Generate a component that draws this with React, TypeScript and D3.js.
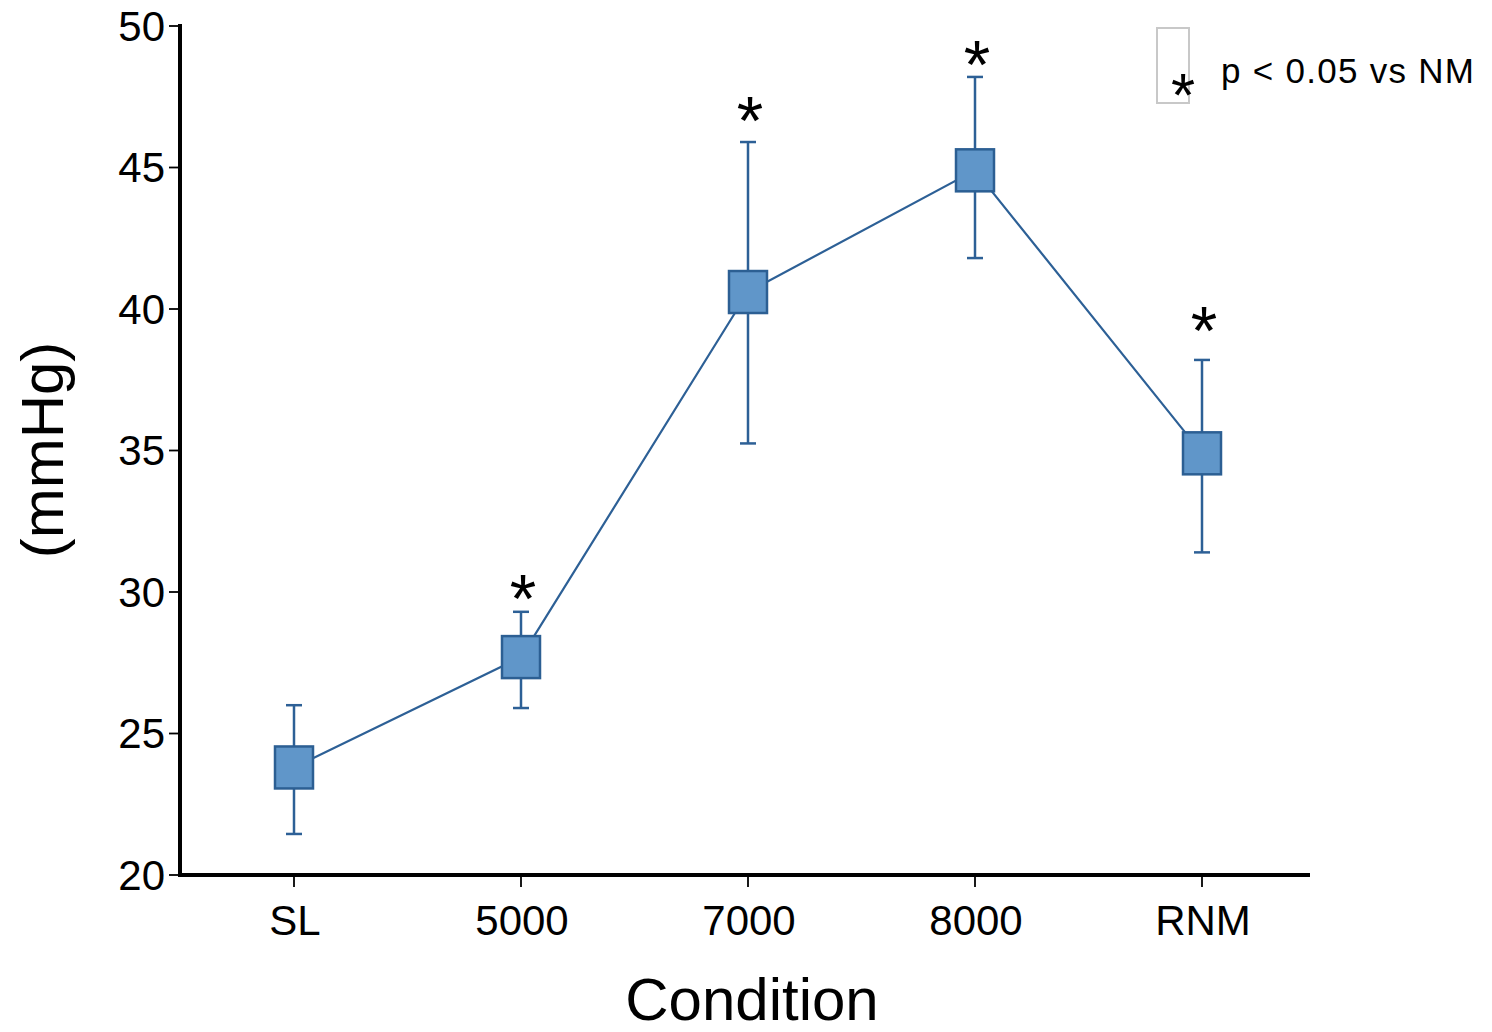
import React from "react";
import * as d3 from "d3";

const categories = ["SL", "5000", "7000", "8000", "RNM"];
const meanValues = [23.8, 27.7, 40.6, 44.9, 34.9];
const upperValues = [26.0, 29.3, 45.9, 48.2, 38.2];
const lowerValues = [21.45, 25.9, 35.25, 41.8, 31.4];
const starValues = [null, 30.3, 47.2, 49.2, 39.8];
const yTicks = [20, 25, 30, 35, 40, 45, 50];

const W = 1492;
const H = 1032;
const FONT = "'Liberation Sans', Arial, Helvetica, sans-serif";
const LINE = "#2d6096";
const FILL = "#6096c9";
const EDGE = "#2c5f93";

export default function App() {
  const x = d3.scalePoint<string>().domain(categories).range([294, 1202]);
  const y = d3.scaleLinear().domain([20, 50]).range([875, 26]);

  const pts = categories.map((c, i) => ({ c, v: meanValues[i], hi: upperValues[i], lo: lowerValues[i], s: starValues[i] }));
  const line = d3
    .line<{ c: string; v: number }>()
    .x((d) => x(d.c) as number)
    .y((d) => y(d.v));

  const boxW = 38;
  const boxH = 42;
  const cap = 8;

  return (
    <svg width={W} height={H} style={{ position: "absolute", left: 0, top: 0 }} fontFamily={FONT}>
      <rect width={W} height={H} fill="#fff" />
      {pts.map((d) => {
        const cx = x(d.c) as number;
        return (
          <g key={"e" + d.c} stroke={LINE} strokeWidth={2.5}>
            <line x1={cx} x2={cx} y1={y(d.hi)} y2={y(d.lo)} />
            <line x1={cx - cap} x2={cx + cap} y1={y(d.hi)} y2={y(d.hi)} />
            <line x1={cx - cap} x2={cx + cap} y1={y(d.lo)} y2={y(d.lo)} />
          </g>
        );
      })}
      <path d={line(pts) || ""} fill="none" stroke={LINE} strokeWidth={2.2} />
      {pts.map((d) => {
        const cx = x(d.c) as number;
        return (
          <rect
            key={"m" + d.c}
            x={cx - boxW / 2}
            y={y(d.v) - boxH / 2}
            width={boxW}
            height={boxH}
            fill={FILL}
            stroke={EDGE}
            strokeWidth={2.5}
          />
        );
      })}
      {pts.map((d) =>
        d.s == null ? null : (
          <text key={"s" + d.c} x={(x(d.c) as number) + 2} y={y(d.s) + 0.573 * 68} fontSize={68} textAnchor="middle" fill="#000">
            *
          </text>
        )
      )}
      <line x1={180} x2={180} y1={24} y2={877} stroke="#000" strokeWidth={4} />
      <line x1={178} x2={1310} y1={875} y2={875} stroke="#000" strokeWidth={4} />
      {yTicks.map((t) => (
        <g key={"yt" + t}>
          <line x1={169} x2={180} y1={y(t)} y2={y(t)} stroke="#000" strokeWidth={1.8} />
          <text x={165} y={y(t)} dy="0.35em" fontSize={42} textAnchor="end" fill="#000">
            {t}
          </text>
        </g>
      ))}
      {categories.map((c) => (
        <g key={"xt" + c}>
          <line x1={x(c) as number} x2={x(c) as number} y1={877} y2={887} stroke="#000" strokeWidth={1.8} />
          <text x={(x(c) as number) + 1} y={935} fontSize={42} textAnchor="middle" fill="#000">
            {c}
          </text>
        </g>
      ))}
      <text x={752} y={1020} fontSize={60} textAnchor="middle" fill="#000">
        Condition
      </text>
      <text transform="translate(63,450) rotate(-90)" fontSize={60} textAnchor="middle" fill="#000">
        (mmHg)
      </text>
      <rect x={1157} y={28} width={32} height={75} fill="none" stroke="#c8c8c8" strokeWidth={2} />
      <text x={1183} y={80 + 0.573 * 62} fontSize={62} textAnchor="middle" fill="#000">
        *
      </text>
      <text x={1221} y={83} fontSize={35} fill="#000" textLength={253} lengthAdjust="spacing">
        p &lt; 0.05 vs NM
      </text>
    </svg>
  );
}
